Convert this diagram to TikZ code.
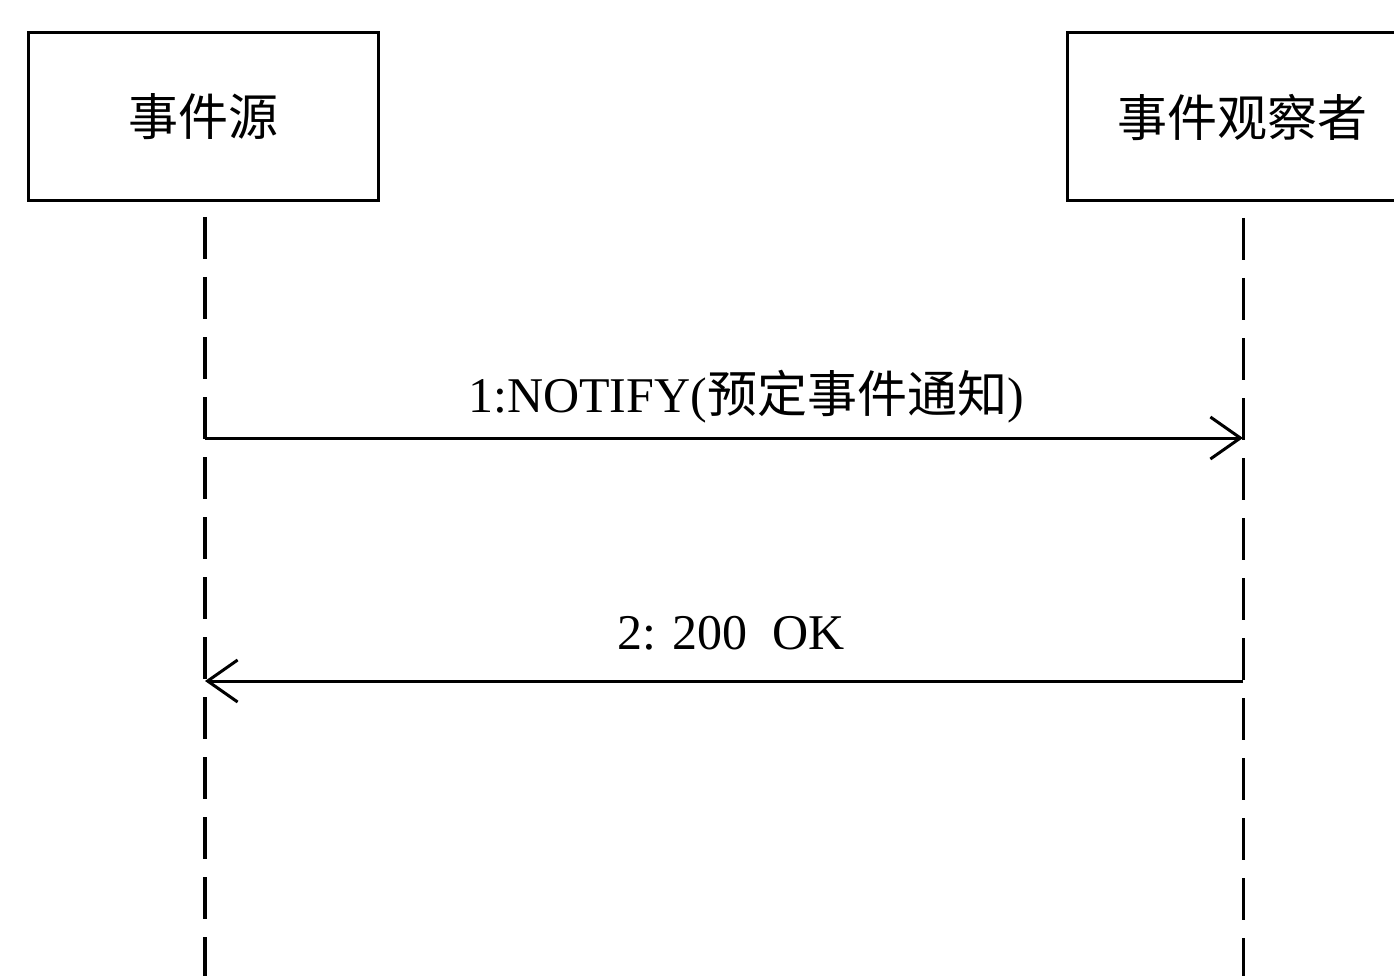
\documentclass[tikz,border=0pt]{standalone}
\usepackage{fontspec}
\setmainfont{Liberation Serif}
\newfontfamily\cjk{Noto Sans CJK SC}
\usetikzlibrary{arrows.meta}
\begin{document}
\begin{tikzpicture}[x=1pt,y=-1pt,
  actor/.style={draw, line width=3pt, minimum width=350pt, minimum height=168pt, inner sep=0pt, font=\fontsize{50}{60}\selectfont\cjk},
  life/.style={line width=3.5pt, dash pattern=on 42pt off 18pt},
  lifethin/.style={line width=3pt, dash pattern=on 42pt off 18pt},
  msg/.style={line width=3pt, -{Straight Barb[length=30pt,width=42pt,line width=3pt]}},
  lbl/.style={font=\fontsize{50}{58}\selectfont, anchor=base, inner sep=0pt}]
\clip (0,0) rectangle (1394,976);
\fill[white] (0,0) rectangle (1394,976);
\node[actor] (src) at (203,117) {事件源};
\node[actor] (obs) at (1242,117) {事件观察者};
\coordinate (s0) at (205,217);
\coordinate (sE) at (205,980);
\coordinate (o0) at (1243,218);
\coordinate (oE) at (1243,980);
\draw[life] (s0) -- (sE);
\draw[lifethin] (o0) -- (oE);
\coordinate (s1) at (205,438);
\coordinate (o1) at (1243,438);
\coordinate (o2) at (1243,681);
\coordinate (s2) at (205,681);
\draw[msg] (s1) -- (o1);
\draw[msg] (o2) -- (s2);
\node[lbl] (l1) at (746,412) {1:NOTIFY({\cjk 预定事件通知})};
\node[lbl] (l2) at (731,649) {2: 200\ \ OK};
\end{tikzpicture}
\end{document}
